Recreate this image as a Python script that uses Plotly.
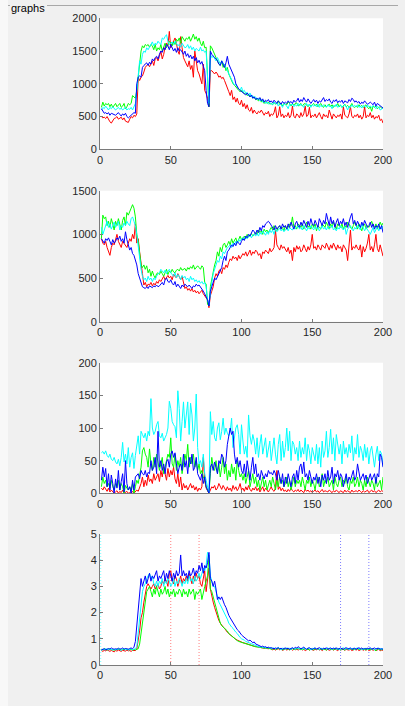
import plotly.graph_objects as go

# figure kept slightly smaller than the window so the page never overflows;
# the page background is painted like the panel around it
W, H = 398, 696

# ---------------- data ----------------
x_ticks = [0, 50, 100, 150, 200]

# subplot 1 (0..2000)
R1 = [500,480,490,470,500,450,420,400,440,470, 480,500,460,470,490,450,480,430,420,410,
      460,500,480,520,500,540,1100,1050,1100,1120, 1180,1250,1280,1300,1260,1320,1350,1280,1380,1400,
      1350,1420,1500,1380,1450,1560,1620,1580,1800,1550, 1600,1650,1700,1620,1500,1450,1720,1550,1400,1350,
      1300,1260,1350,1220,1280,1100,1500,1300,1200,1150, 1050,1000,1300,900,850,780,650,1200,1200,1180,
      1150,1180,1150,1100,1120,1080,1100,1050,1000,950, 880,820,900,760,800,720,780,700,680,750,
      650,700,620,680,600,580,640,550,600,560, 540,580,560,600,550,520,560,540,580,500,
      540,520,560,650,480,520,650,500,540,480, 520,500,560,480,520,660,500,480,540,520,
      480,560,500,540,660,500,520,640,480,520, 500,540,480,520,560,500,460,540,500,520,
      480,600,520,460,540,500,480,520,500,540, 460,650,520,500,480,540,650,500,480,520,
      500,540,480,520,460,500,650,480,520,500, 560,480,520,460,500,480,520,440,460,400]
G1 = [640,720,660,700,680,700,650,690,640,670, 700,650,680,700,640,660,700,620,650,700,
      680,700,820,800,780,900,1100,1300,1500,1580, 1550,1600,1580,1600,1560,1600,1580,1520,1600,1500,
      1550,1520,1600,1500,1580,1620,1550,1600,1650,1620, 1580,1640,1600,1680,1650,1700,1620,1720,1680,1650,
      1700,1680,1720,1650,1700,1760,1680,1720,1650,1700, 1620,1580,1650,1550,1560,1100,650,1580,1550,1500,
      1450,1400,1350,1300,1280,1350,1250,1300,1200,1250, 1150,1100,1050,1000,980,950,920,900,880,900,
      870,850,860,820,840,800,820,780,800,760, 760,740,780,720,750,700,730,700,720,690,
      700,680,720,690,700,740,680,700,660,700, 690,680,720,700,660,700,680,690,710,660,
      680,700,660,690,700,670,650,690,660,680, 700,660,690,650,680,700,660,640,680,650,
      670,690,650,680,640,670,660,700,650,670, 640,660,690,650,670,640,660,700,650,640,
      660,640,680,650,670,640,660,680,640,620, 650,580,660,640,660,620,640,650,630,630]
C1 = [600,640,620,660,630,600,640,620,650,630, 600,620,640,610,630,600,620,640,600,620,
      610,640,600,650,700,900,1100,1350,1300,1450, 1500,1480,1550,1520,1560,1600,1640,1580,1620,1600,
      1650,1620,1600,1700,1680,1720,1750,1650,1600,1620, 1640,1600,1650,1620,1580,1600,1560,1620,1580,1550,
      1560,1600,1540,1580,1520,1560,1500,1540,1520,1500, 1560,1500,1520,1480,1500,1100,700,1450,1400,1420,
      1380,1350,1400,1360,1300,1350,1320,1280,1250,1200, 1150,1100,1050,1020,980,1000,950,920,900,950,
      880,900,850,870,820,860,800,820,780,800, 760,780,740,760,720,740,700,720,690,710,
      700,680,720,690,710,660,700,680,640,700, 680,660,620,690,670,700,650,680,660,700,
      660,690,670,640,680,700,660,690,640,680, 660,680,650,690,640,670,650,680,660,640,
      680,650,660,620,670,650,690,640,660,680, 640,660,680,650,600,660,640,680,650,670,
      650,680,640,660,630,670,650,640,680,650, 660,640,670,650,620,660,640,600,620,630]
B1 = [620,580,550,560,540,560,520,550,540,530, 520,540,560,530,510,540,520,550,500,480,
      500,520,540,560,550,1000,1100,1120,1100,1250, 1280,1300,1320,1280,1330,1300,1380,1350,1400,1420,
      1380,1450,1500,1480,1550,1520,1600,1580,1520,1600, 1560,1500,1540,1480,1550,1500,1520,1480,1450,1500,
      1420,1460,1400,1440,1380,1420,1350,1400,1320,1360, 1300,1340,1280,1200,900,700,650,1500,1450,1420,
      1400,1380,1350,1300,1280,1350,1300,1250,1320,1420, 1300,1250,1200,1150,1100,1000,950,920,900,880,
      870,850,830,860,820,800,830,780,800,760, 780,760,790,740,770,720,750,730,760,720,
      740,710,750,720,700,740,710,690,730,700, 720,700,740,710,730,700,750,720,740,780,
      720,760,730,790,750,720,770,740,700,730, 760,720,750,700,740,720,760,790,730,760,
      740,770,720,700,750,730,760,710,740,720, 750,700,740,720,710,760,730,780,760,720,
      740,710,730,690,720,700,740,710,690,700, 720,700,680,720,660,700,680,660,650,630]

# subplot 2 (0..1500)
R2 = [950,900,880,920,850,800,760,850,900,880, 950,1000,920,880,850,920,900,870,850,900,
      950,920,1000,950,1120,900,950,800,700,550, 420,450,400,430,420,450,410,440,420,460,
      440,480,460,500,520,480,500,530,500,520, 480,540,520,500,550,520,480,520,450,380,
      400,360,380,350,380,340,360,330,350,320, 340,360,320,300,280,250,160,300,350,400,
      500,550,520,580,600,550,620,600,650,620, 680,720,700,750,720,740,700,760,720,750,
      780,760,800,750,780,820,760,800,780,820, 800,760,780,720,800,780,820,800,780,840,
      800,820,850,1050,880,850,820,880,840,860, 820,800,850,780,820,700,850,800,870,830,
      860,800,820,880,840,800,860,820,880,1000, 840,860,820,880,850,820,880,860,840,900,
      860,820,880,840,900,860,820,880,840,860, 800,880,850,820,700,860,1050,820,860,840,
      880,840,820,880,740,860,800,840,900,1000, 820,860,800,880,1000,840,800,880,820,750]
G2 = [950,1220,1180,1200,1100,1150,1080,1180,1120,1050, 1150,1100,1180,1120,1050,1160,1200,1100,1250,1220,
      1270,1300,1340,1300,1200,1000,920,800,650,620, 650,600,640,560,600,520,580,530,500,550,
      560,540,580,550,520,560,600,540,580,560, 600,570,560,590,600,580,620,590,600,610,
      580,620,600,630,610,650,600,620,640,620, 600,640,620,450,430,200,180,400,500,600,
      650,700,800,750,850,800,880,900,850,880, 920,880,950,900,940,960,900,950,980,940,
      960,980,950,1000,970,990,1010,980,1000,1020, 1000,1050,1020,1040,1000,1060,1030,1050,1020,1060,
      1080,1050,1100,1060,1040,1080,1100,1060,1080,1040, 1100,1060,1080,1120,1100,1200,1080,1100,1060,1120,
      1100,1080,1120,1060,1100,1140,1080,1100,1060,1120, 1080,1120,1040,1100,1080,1060,1120,1100,1080,1140,
      1100,1060,1120,1080,1140,1100,1060,1120,1100,1080, 1120,1060,1100,1080,1140,1120,1080,1060,1100,1140,
      1100,1060,1120,1080,1040,1100,1120,1060,1100,1080, 1120,1150,1100,1080,1120,1060,1100,1140,1100,1130]
C2 = [1080,1000,1050,1100,1150,1080,1120,1060,1100,1140, 1080,1120,1150,1050,1100,1080,1130,1100,1150,1120,
      1100,1180,1200,1150,1100,1000,850,700,600,520, 480,500,460,520,480,500,460,500,480,520,
      550,560,600,580,560,590,550,580,600,560, 540,520,560,500,540,520,480,530,500,520,
      480,500,460,520,480,500,460,480,450,470, 440,460,430,450,400,250,200,350,450,550,
      600,650,700,680,750,720,800,780,820,850, 860,880,850,900,880,920,900,940,920,950,
      960,940,980,950,970,1000,960,990,1000,980, 1010,980,1020,1000,1040,1010,990,1030,1000,1050,
      1020,1050,1000,1060,1030,1050,1070,1040,1060,1030, 1050,1070,1040,1080,1060,1050,1090,1060,1080,1100,
      1060,1080,1050,1100,1070,1040,1080,1060,1100,1080, 1050,1090,1060,1080,1040,1070,1100,1060,1080,1050,
      1090,1060,1080,1100,1050,1070,1040,1080,1060,1100, 1070,1050,1090,1000,1060,1080,1100,1060,1040,1080,
      1060,1100,1080,1050,1120,1070,1040,1080,1060,1030, 1000,1050,1080,1020,1060,1090,1040,1080,1060,1100]
B2 = [950,920,900,950,930,960,920,880,940,900, 920,960,940,980,920,950,900,1030,940,880,
      820,850,780,760,700,650,550,500,450,400, 390,380,400,380,410,400,390,410,400,420,
      400,410,430,450,420,480,500,460,450,480, 440,420,460,400,430,410,380,420,400,430,
      410,400,420,400,380,410,400,430,410,420, 400,380,350,320,280,250,180,350,400,450,
      500,480,520,550,600,620,700,750,700,800, 820,850,880,860,900,870,920,900,880,920,
      950,930,980,960,1000,980,1020,1050,1030,1000, 1050,1020,1080,1040,1100,1080,1120,1140,1150,1130,
      1100,1080,1050,1100,1060,1080,1100,1060,1120,1080, 1100,1060,1120,1080,1140,1100,1060,1120,1150,1100,
      1080,1140,1100,1160,1120,1080,1150,1100,1180,1120, 1100,1160,1120,1080,1180,1140,1100,1160,1120,1240,
      1150,1100,1200,1120,1160,1080,1140,1180,1100,1150, 1120,1180,1100,1140,1080,1160,1200,1240,1120,1160,
      1100,1150,1120,1080,1140,1100,1160,1120,1080,1100, 1140,1080,1120,1060,1100,1080,1120,1060,1100,1020]

# subplot 3 (0..200)
R3 = [8,5,10,6,3,8,2,5,3,0, 2,4,0,3,1,5,0,2,3,0,
      1,0,3,0,2,5,3,8,15,25, 10,20,12,28,18,22,15,30,20,25,
      30,18,35,25,40,30,20,38,25,35, 28,40,22,15,30,10,25,5,15,8,
      12,5,10,15,8,12,5,10,3,8, 5,10,55,20,8,3,0,5,10,8,
      12,5,8,15,10,6,12,8,4,10, 5,8,3,12,6,10,4,8,15,5,
      8,3,10,5,12,6,3,8,5,10, 4,8,2,6,10,3,8,5,2,6,
      10,5,3,8,35,6,10,4,8,3, 5,2,6,3,8,4,2,5,3,6,
      2,5,3,1,6,3,5,2,4,1, 3,5,2,4,1,3,6,2,4,3,
      2,5,3,1,4,2,5,3,1,4, 3,1,5,2,4,3,1,5,2,3,
      4,2,5,3,1,4,2,3,5,1, 3,5,2,4,1,3,5,2,4,3]
G3 = [10,25,15,20,10,15,8,20,10,5, 15,10,20,5,15,10,0,12,8,5,
      10,5,15,0,10,20,15,25,40,65, 70,60,55,40,68,45,35,55,40,60,
      50,35,45,55,30,40,50,60,55,85, 45,40,60,35,50,40,55,30,45,60,
      50,75,40,55,45,60,40,50,35,45, 30,35,25,20,10,5,0,30,55,40,
      35,50,30,45,25,40,55,30,45,20, 35,25,45,30,40,20,50,35,25,30,
      20,30,15,25,35,10,20,30,15,25, 10,20,5,15,25,10,20,5,15,20,
      10,25,15,5,20,10,25,15,20,10, 15,25,10,20,5,15,25,10,20,15,
      20,10,25,15,5,20,15,25,10,20, 15,5,20,25,10,15,30,10,20,15,
      25,10,15,20,5,25,15,10,20,25, 10,20,15,25,10,5,20,15,25,10,
      15,25,10,20,15,5,20,10,25,15, 10,20,15,5,25,10,15,20,5,25]
C3 = [62,64,60,65,58,55,60,52,50,55, 48,45,52,42,55,78,48,60,45,70,
      40,55,62,38,58,72,88,60,95,90, 85,92,80,95,88,145,100,90,95,105,
      110,88,85,92,80,85,90,100,141,130, 110,105,102,85,157,130,80,110,140,100,
      120,140,90,138,120,80,100,152,70,45, 50,40,60,30,20,10,0,125,90,110,
      85,80,100,108,82,95,115,90,100,92, 88,95,115,70,85,100,105,90,60,105,
      80,60,72,55,120,88,75,90,80,60, 85,55,75,90,60,70,85,55,65,80,
      50,70,85,60,45,75,90,50,80,55, 70,100,65,95,50,80,75,60,70,50,
      80,55,70,60,85,50,75,65,45,70, 60,50,75,45,70,40,80,55,65,95,
      55,70,98,60,85,50,90,70,60,75, 45,80,60,70,55,75,62,88,50,70,
      60,90,55,72,65,50,75,55,70,45, 65,72,55,40,60,72,50,65,60,42]
B3 = [20,40,25,38,10,30,5,28,15,0, 22,8,35,5,18,30,2,50,15,5,
      10,0,20,5,25,28,30,22,35,30, 28,35,25,32,30,50,35,40,55,30,
      95,40,50,35,45,30,48,52,40,60, 65,55,62,45,30,40,45,35,60,40,
      50,30,55,45,60,35,40,55,30,25, 20,30,15,25,10,5,0,40,45,35,
      48,40,30,50,45,60,55,40,50,75, 85,100,90,95,60,45,55,40,50,35,
      30,45,25,50,35,20,40,55,30,45, 25,30,20,35,28,22,30,25,35,30,
      32,28,35,30,20,35,25,15,30,10, 25,15,30,20,10,25,30,15,35,20,
      40,45,30,48,25,30,20,35,25,15, 25,20,30,15,25,10,28,20,30,15,
      35,20,25,40,15,30,25,35,20,30, 25,10,20,30,15,25,20,30,35,20,
      25,45,30,20,25,30,20,28,15,25, 30,20,25,30,15,30,25,60,55,40]

# subplot 4 (0..5)
R4 = [0.55,0.52,0.56,0.54,0.58,0.55,0.52,0.56,0.54,0.5, 0.55,0.53,0.57,0.54,0.52,0.56,0.55,0.53,0.57,0.54,
      0.55,0.52,0.56,0.54,0.55,0.6,0.9,1.3,1.8,2.0, 2.4,2.8,3.0,3.1,3.0,2.9,3.0,3.1,2.9,3.0,
      3.1,2.9,3.0,3.2,3.1,3.3,3.2,3.0,3.5,3.6, 3.2,3.1,3.4,3.3,3.0,3.2,3.4,3.1,3.3,3.2,
      3.4,3.2,3.5,3.3,3.1,3.4,3.2,3.5,3.3,3.4, 3.1,3.0,3.4,3.6,2.8,3.2,3.7,2.9,2.6,2.4,
      2.2,2.0,1.8,1.7,1.6,1.5,1.45,1.4,1.3,1.25, 1.2,1.15,1.1,1.05,1.0,0.98,0.95,0.92,0.9,0.88,
      0.85,0.84,0.82,0.8,0.78,0.76,0.75,0.73,0.72,0.7, 0.7,0.68,0.67,0.66,0.65,0.64,0.65,0.63,0.62,0.64,
      0.6,0.58,0.61,0.57,0.6,0.62,0.58,0.6,0.56,0.59, 0.61,0.57,0.6,0.58,0.62,0.56,0.6,0.58,0.61,0.57,
      0.6,0.62,0.57,0.6,0.55,0.59,0.61,0.57,0.6,0.58, 0.56,0.6,0.58,0.61,0.57,0.6,0.55,0.59,0.61,0.57,
      0.6,0.56,0.58,0.61,0.57,0.6,0.58,0.55,0.6,0.57, 0.59,0.61,0.56,0.6,0.58,0.57,0.6,0.55,0.58,0.6,
      0.57,0.6,0.55,0.58,0.61,0.56,0.59,0.57,0.6,0.55, 0.58,0.6,0.56,0.59,0.55,0.58,0.6,0.54,0.57,0.56]
G4 = [0.6,0.58,0.62,0.6,0.57,0.6,0.62,0.58,0.6,0.56, 0.58,0.61,0.59,0.62,0.57,0.6,0.58,0.62,0.59,0.6,
      0.58,0.6,0.56,0.6,0.58,0.6,0.62,0.8,1.2,1.5, 2.0,2.5,2.8,2.9,3.0,2.8,2.6,2.9,2.7,3.0,
      2.8,2.6,2.9,2.7,2.8,3.0,2.7,2.9,2.6,2.8, 2.7,2.9,2.6,2.8,2.7,2.9,2.8,2.6,2.9,2.7,
      2.8,2.6,2.9,2.7,2.8,2.9,2.5,2.8,2.7,2.8, 2.9,2.5,2.8,3.0,3.2,3.4,4.2,2.9,2.8,2.6,
      2.4,2.1,1.9,1.7,1.6,1.5,1.45,1.4,1.35,1.3, 1.2,1.15,1.1,1.05,1.0,0.96,0.93,0.9,0.88,0.86,
      0.84,0.82,0.8,0.78,0.76,0.75,0.74,0.72,0.71,0.7, 0.7,0.68,0.67,0.66,0.65,0.66,0.64,0.65,0.63,0.64,
      0.62,0.6,0.63,0.59,0.61,0.64,0.6,0.62,0.58,0.61, 0.63,0.6,0.62,0.58,0.61,0.63,0.59,0.62,0.6,0.64,
      0.61,0.58,0.62,0.6,0.63,0.59,0.61,0.57,0.62,0.6, 0.58,0.62,0.6,0.63,0.59,0.61,0.58,0.62,0.6,0.57,
      0.61,0.63,0.59,0.62,0.58,0.6,0.63,0.59,0.61,0.58, 0.62,0.6,0.57,0.61,0.63,0.59,0.62,0.6,0.58,0.61,
      0.6,0.63,0.58,0.61,0.59,0.62,0.6,0.57,0.62,0.6, 0.58,0.61,0.63,0.59,0.54,0.6,0.62,0.58,0.6,0.59]
C4 = [0.55,0.6,0.58,0.62,0.6,0.58,0.62,0.6,0.57,0.6, 0.6,0.58,0.62,0.6,0.56,0.6,0.62,0.58,0.6,0.57,
      0.6,0.62,0.58,0.6,0.62,0.7,1.2,1.8,2.3,2.8, 3.0,3.1,3.3,3.4,3.5,3.3,3.4,3.1,3.0,3.2,
      3.0,3.2,3.1,3.3,3.0,3.2,3.1,3.3,3.2,3.0, 3.1,3.3,3.0,3.2,3.1,3.3,3.2,3.0,3.2,3.1,
      3.3,3.1,3.4,3.2,3.3,3.1,3.4,3.2,3.3,3.5, 3.3,3.5,3.7,3.6,3.8,4.3,4.2,3.4,3.2,3.0,
      3.0,2.8,2.5,2.4,2.3,2.2,2.1,2.0,1.9,1.75, 1.6,1.5,1.45,1.4,1.3,1.25,1.2,1.1,1.05,1.0,
      0.98,0.95,0.9,0.88,0.85,0.82,0.8,0.78,0.76,0.74, 0.72,0.7,0.68,0.7,0.67,0.68,0.66,0.65,0.67,0.64,
      0.65,0.62,0.66,0.6,0.64,0.67,0.62,0.58,0.65,0.63, 0.6,0.66,0.62,0.64,0.58,0.65,0.62,0.6,0.66,0.63,
      0.6,0.64,0.58,0.66,0.62,0.6,0.65,0.63,0.57,0.64, 0.62,0.66,0.6,0.63,0.58,0.65,0.62,0.6,0.64,0.61,
      0.66,0.6,0.63,0.58,0.65,0.62,0.6,0.64,0.62,0.57, 0.63,0.66,0.6,0.62,0.65,0.58,0.63,0.61,0.64,0.6,
      0.62,0.66,0.6,0.63,0.57,0.64,0.61,0.65,0.6,0.62, 0.64,0.6,0.63,0.58,0.62,0.65,0.6,0.63,0.61,0.62]
B4 = [0.58,0.6,0.62,0.58,0.6,0.63,0.6,0.65,0.62,0.6, 0.62,0.6,0.64,0.6,0.62,0.65,0.6,0.63,0.62,0.6,
      0.63,0.65,0.62,0.68,0.9,1.5,2.2,2.7,3.3,3.0, 3.2,3.4,3.1,3.3,3.5,3.2,3.4,3.3,3.5,3.6,
      3.2,3.4,3.3,3.5,3.6,3.2,3.5,3.3,3.6,3.4, 3.2,3.5,3.3,3.6,3.4,3.5,4.2,3.4,3.6,3.4,
      3.5,3.3,3.6,3.4,3.5,3.7,3.4,3.6,3.5,3.8, 3.6,3.9,3.5,3.8,3.7,3.9,4.3,3.3,3.2,3.0,
      3.2,2.9,2.5,2.6,2.5,2.6,2.4,2.3,2.2,2.0, 1.9,1.8,1.7,1.6,1.5,1.4,1.35,1.3,1.2,1.15,
      1.1,1.05,1.0,0.95,0.92,0.95,0.9,0.85,0.88,0.8, 0.78,0.75,0.72,0.7,0.72,0.68,0.7,0.66,0.68,0.65,
      0.66,0.64,0.62,0.65,0.63,0.66,0.62,0.64,0.6,0.63, 0.65,0.62,0.64,0.6,0.63,0.66,0.62,0.68,0.64,0.7,
      0.66,0.62,0.65,0.68,0.63,0.6,0.64,0.66,0.62,0.6, 0.63,0.65,0.61,0.64,0.66,0.62,0.6,0.64,0.62,0.66,
      0.6,0.63,0.65,0.61,0.64,0.62,0.66,0.6,0.63,0.65, 0.62,0.6,0.64,0.66,0.61,0.63,0.65,0.6,0.62,0.64,
      0.6,0.63,0.66,0.62,0.65,0.6,0.63,0.61,0.64,0.62, 0.66,0.6,0.63,0.65,0.61,0.62,0.64,0.6,0.62,0.6]

# vertical dotted markers in the 4th plot: (x position, colour)
markers4 = [(0.5, "#00ffff"), (50, "#ff0000"), (70, "#ff0000"), (170, "#0000ff"), (190, "#0000ff")]

panels = [
    {"series": [R1, G1, C1, B1], "yrange": [0, 2000], "dtick": 500},
    {"series": [R2, G2, C2, B2], "yrange": [0, 1500], "dtick": 500},
    {"series": [R3, G3, C3, B3], "yrange": [0, 200], "dtick": 50},
    {"series": [R4, G4, C4, B4], "yrange": [0, 5], "dtick": 1},
]
colors = ["#ff0000", "#00ff00", "#00ffff", "#0000ff"]

# pixel geometry of the plot areas (figure pixels)
x_px = (100, 383)
y_px = [(18.3, 149.3), (190.7, 321.7), (362.7, 493.3), (534, 665)]

fig = go.Figure()
axis_col = "#262626"
for i, p in enumerate(panels):
    n = "" if i == 0 else str(i + 1)
    for s, c in zip(p["series"], colors):
        fig.add_trace(go.Scatter(x=list(range(1, len(s) + 1)), y=s, mode="lines",
                                 line=dict(color=c, width=1), xaxis="x" + n, yaxis="y" + n,
                                 showlegend=False, hoverinfo="skip"))
    top, bot = y_px[i]
    common = dict(showline=True, linecolor="#7a7a7a", linewidth=1, ticks="inside", ticklen=3,
                  tickcolor="#7a7a7a", showgrid=False, zeroline=False, automargin=False,
                  tickfont=dict(family="Liberation Sans, Arial, sans-serif", size=11, color=axis_col))
    fig.layout["xaxis" + n] = dict(domain=[x_px[0] / W, x_px[1] / W], range=[0, 200],
                                   tickvals=x_ticks, anchor="y" + n, **common)
    fig.layout["yaxis" + n] = dict(domain=[1 - bot / H, 1 - top / H], range=p["yrange"],
                                   dtick=p["dtick"], anchor="x" + n, **common)

shapes = []
for xv, c in markers4:
    shapes.append(dict(type="line", xref="x4", yref="y4", x0=xv, x1=xv, y0=0, y1=5,
                       line=dict(color=c, width=1, dash="1px,2px"), opacity=0.5, layer="below"))
# lighter strip at the far left (outside the panel)
shapes.append(dict(type="rect", xref="paper", yref="paper", x0=0, x1=8 / W, y0=0, y1=1,
                   fillcolor="#f8f8f8", line=dict(width=0), layer="below"))
# panel frame line (top) broken by the title
shapes.append(dict(type="line", xref="paper", yref="paper", x0=8 / W, x1=10 / W,
                   y0=1 - 5.5 / H, y1=1 - 5.5 / H, line=dict(color="#a8a8a8", width=1)))
shapes.append(dict(type="line", xref="paper", yref="paper", x0=47 / W, x1=1,
                   y0=1 - 5.5 / H, y1=1 - 5.5 / H, line=dict(color="#a8a8a8", width=1)))
# white plot backgrounds
for top, bot in y_px:
    shapes.append(dict(type="rect", xref="paper", yref="paper", x0=x_px[0] / W, x1=x_px[1] / W,
                       y0=1 - bot / H, y1=1 - top / H, fillcolor="white", line=dict(width=0),
                       layer="below"))

fig.update_layout(
    width=W, height=H, margin=dict(l=0, r=0, t=0, b=0),
    paper_bgcolor="#f0f0f0", plot_bgcolor="rgba(0,0,0,0)",
    shapes=shapes,
    annotations=[dict(text="graphs", x=10 / W, y=1 - 7.5 / H, xref="paper", yref="paper",
                      xanchor="left", yanchor="middle", showarrow=False, borderpad=0,
                      font=dict(family="Liberation Sans, Arial, sans-serif", size=11, color="#000000"))],
)
fig.write_html(
    "out.html",
    post_script="document.body.style.background="
                "'linear-gradient(to right,#f8f8f8 0px,#f8f8f8 8px,#f0f0f0 8px,#f0f0f0 100%)';"
                "document.body.style.minHeight='100vh';",
)
